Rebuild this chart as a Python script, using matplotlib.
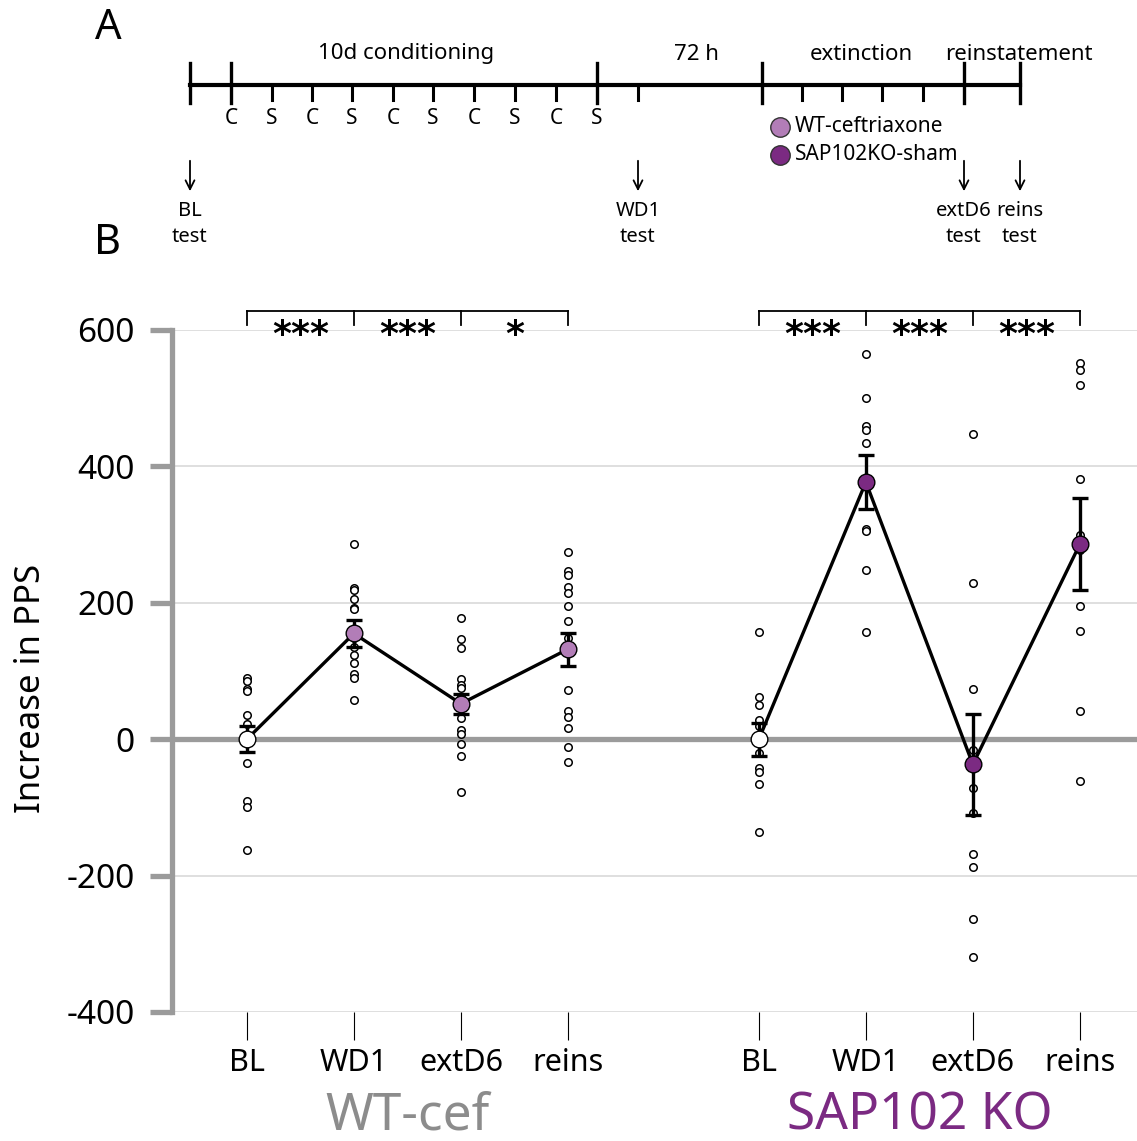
import matplotlib
matplotlib.use("Agg")
import matplotlib.pyplot as plt
import numpy as np

plt.rcParams["font.family"] = ["Noto Sans", "DejaVu Sans"]

# ---- data ----
phases = ["BL", "WD1", "extD6", "reins"]
groups = ["WT-cef", "SAP102 KO"]

wt_points = [
    [90, 86, 73, 71, 35, 22, 5, -35, -90, -100, -162],
    [286, 221, 219, 205, 193, 191, 149, 135, 124, 111, 96, 90, 58],
    [177, 147, 134, 88, 80, 75, 62, 31, 14, 7, -7, -24, -77],
    [275, 246, 241, 223, 215, 195, 174, 149, 72, 41, 33, 17, -11, -34],
]
wt_mean = [0, 155, 52, 132]
wt_sem = [19, 20, 15, 24]

ko_points = [
    [157, 62, 50, 28, 20, -20, -42, -48, -65, -136],
    [565, 500, 459, 454, 435, 308, 306, 248, 157],
    [447, 229, 74, -16, -71, -108, -169, -188, -264, -319],
    [551, 541, 520, 382, 300, 277, 195, 158, 41, -62],
]
ko_mean = [0, 377, -37, 286]
ko_sem = [24, 40, 74, 67]

wt_stars = ["***", "***", "*"]
ko_stars = ["***", "***", "***"]

# timeline schematic (panel A)
cs_labels = ["C", "S", "C", "S", "C", "S", "C", "S", "C", "S"]
period_labels = ["10d conditioning", "72 h", "extinction", "reinstatement"]
test_labels = ["BL\ntest", "WD1\ntest", "extD6\ntest", "reins\ntest"]

GRAY = "#9b9b9b"
LIGHT = "#b27db7"
DARK = "#7b2a82"

W, H = 1137, 1141
fig = plt.figure(figsize=(W / 100, H / 100), dpi=100)

# ---------------- panel B ----------------
ax = fig.add_axes([172 / W, (H - 1012) / H, (W - 172) / W, (1012 - 330) / H])
ax.set_ylim(-400, 600)
gap = 1.785
x_wt = np.arange(4)
x_ko = np.arange(4) + 3 + gap
ax.set_xlim(x_wt[0] - 0.70, x_ko[-1] + 0.534)

for y in [600, 400, 200, -200, -400]:
    ax.axhline(y, color="#dcdcdc", lw=1.3, zorder=0)
ax.axhline(0, color=GRAY, lw=3.8, zorder=1)

for xs, pts, mean, sem, col in [
    (x_wt, wt_points, wt_mean, wt_sem, LIGHT),
    (x_ko, ko_points, ko_mean, ko_sem, DARK),
]:
    for xi, p in zip(xs, pts):
        ax.plot([xi] * len(p), p, "o", ms=5.4, mfc="white", mec="black",
                mew=1.1, zorder=2, clip_on=False)
    ax.plot(xs, mean, "-", color="black", lw=2.4, zorder=3)
    ax.errorbar(xs, mean, yerr=sem, fmt="none", ecolor="black", elinewidth=2.4,
                capsize=6, capthick=2.4, zorder=4)
    fills = ["white"] + [col] * 3
    for xi, m, fc in zip(xs, mean, fills):
        ax.plot(xi, m, "o", ms=12, mfc=fc, mec="black", mew=1.0, zorder=5)

    # significance brackets
    top, drop = 628, 607
    ax.plot([xs[0], xs[-1]], [top, top], color="black", lw=1.3, clip_on=False)
    for xi in xs:
        ax.plot([xi, xi], [top, drop], color="black", lw=1.3, clip_on=False)

for xs, stars in [(x_wt, wt_stars), (x_ko, ko_stars)]:
    for i, s in enumerate(stars):
        ax.text((xs[i] + xs[i + 1]) / 2, 592, s, ha="center", va="center",
                fontsize=26, fontweight="bold", clip_on=False,
                family="DejaVu Sans")

for sp in ["top", "right", "bottom"]:
    ax.spines[sp].set_visible(False)
ax.spines["left"].set_color(GRAY)
ax.spines["left"].set_linewidth(3.8)
ax.set_yticks([600, 400, 200, 0, -200, -400])
ax.set_yticklabels(["600", "400", "200", "0", "-200", "-400"])
ax.tick_params(axis="y", length=16, width=3.8, color=GRAY, pad=11, labelsize=24)

ax.set_xticks(list(x_wt) + list(x_ko))
ax.set_xticklabels(phases * 2)
ax.tick_params(axis="x", length=20, width=0.8, color="black", pad=6, labelsize=22)
ax.set_ylabel("Increase in PPS", fontsize=25)
ax.yaxis.set_label_coords(-0.128, 0.475)

ax.text(np.mean(x_wt), -552, groups[0], ha="center", va="center",
        fontsize=37, color="#8c8c8c", clip_on=False)
ax.text(np.mean(x_ko), -552, groups[1], ha="center", va="center",
        fontsize=37, color=DARK, clip_on=False)

# ---------------- panel A (schematic, pixel space) ----------------
sx = fig.add_axes([0, 0, 1, 1], zorder=-1)
sx.set_xlim(0, W)
sx.set_ylim(H, 0)
sx.axis("off")

line_y = 85
major = [190, 231, 597, 762, 964, 1020]
minor = [272, 312, 352, 393, 433, 474, 515, 556, 638, 802, 842, 882, 923]
sx.plot([major[0], major[-1]], [line_y, line_y], color="black", lw=3)
for xm in major:
    sx.plot([xm, xm], [63, 103], color="black", lw=2.4)
for xm in minor:
    sx.plot([xm, xm], [line_y, 100], color="black", lw=2.2)

cs_x = [231, 272, 312, 352, 393, 433, 474, 515, 556, 597]
for xc, lab in zip(cs_x, cs_labels):
    sx.text(xc, 118, lab, ha="center", va="center", fontsize=15)

for xc, lab in zip([406, 696, 861, 1019], period_labels):
    sx.text(xc, 54, lab, ha="center", va="center", fontsize=16)

for xc, lab in zip([190, 638, 964, 1020], test_labels):
    sx.annotate("", xy=(xc, 194), xytext=(xc, 158),
                arrowprops=dict(arrowstyle="->", color="black", lw=1.3,
                                mutation_scale=16))
    sx.text(xc, 224, lab, ha="center", va="center", fontsize=14.5,
            linespacing=1.45)

for yy, fc, lab in [(127, LIGHT, "WT-ceftriaxone"), (155, DARK, "SAP102KO-sham")]:
    sx.plot(780, yy, "o", ms=14, mfc=fc, mec="#333333", mew=1.0)
    sx.text(795, yy, lab, ha="left", va="center", fontsize=15)

sx.text(108, 28, "A", ha="center", va="center", fontsize=30)
sx.text(108, 243, "B", ha="center", va="center", fontsize=30)

fig.savefig("out.png", dpi=100)
